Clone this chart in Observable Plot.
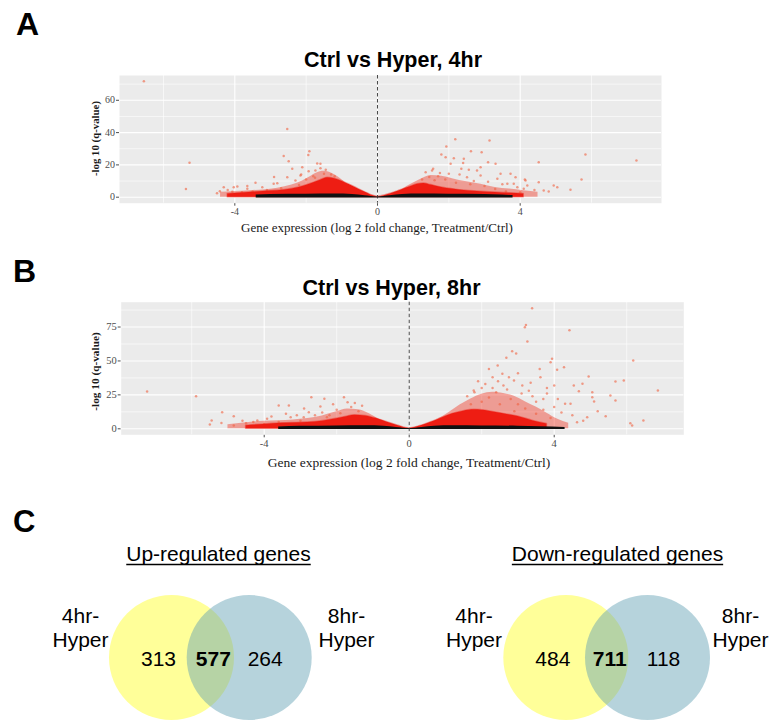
<!DOCTYPE html>
<html><head><meta charset="utf-8">
<script src="https://cdn.jsdelivr.net/npm/d3@7"></script>
<script src="https://cdn.jsdelivr.net/npm/@observablehq/plot@0.6"></script>
<style>
body{margin:0;background:#fff;}
#fig{position:relative;width:769px;height:720px;overflow:hidden;background:#fff;}
#fig svg{position:absolute;left:0;}
</style></head><body><div id="fig"></div>
<script>
// ---------- DATA ----------
const panelLetters = ["A", "B", "C"];
const panelTitles = ["Ctrl vs Hyper, 4hr", "Ctrl vs Hyper, 8hr"];
const xTitle = "Gene expression (log 2 fold change, Treatment/Ctrl)";
const yTitle = "-log 10 (q-value)";
const xTicks = [-4, 0, 4];
const xMinor = [-6, -2, 2, 6];
const yTicks4hr = [0, 20, 40, 60];
const yMinor4hr = [10, 30, 50, 70];
const yTicks8hr = [0, 25, 50, 75];
const yMinor8hr = [12.5, 37.5, 62.5, 87.5];

// scattered significant genes [log2FC, -log10 q]
const scatter4hr = [
  [-6.55,71.8],[-5.27,21.3],[-5.37,5.0],[-2.53,42.3],[-2.63,25.5],[-1.91,28.5],[-1.94,26.2],
  [-2.49,22.2],[-1.69,20.9],[-1.60,20.7],[-2.11,18.6],[-1.93,16.1],[-2.14,14.0],[-2.53,12.4],
  [-2.30,10.3],[-2.91,8.3],[-2.81,8.7],[-3.42,9.0],[-3.65,5.2],[-3.93,6.6],[-4.07,3.3],
  [-4.42,3.7],[-4.31,6.2],[-4.03,6.2],[-3.23,6.2],[-3.65,6.9],[-2.39,17.6],[-2.16,13.4],
  [-1.74,16.5],[-3.10,4.5],[-2.70,5.5],[-2.20,7.5],[-1.80,13.0],[-1.50,14.5],[-1.30,14.0],
  [-1.60,18.0],[-2.00,11.0],[-3.50,3.5],[-4.50,2.5],[-4.20,4.5],[-3.80,3.0],[-2.90,12.5],
  [-1.45,17.0],[-1.20,13.0],[-1.75,12.0],
  [2.18,35.9],[3.14,35.1],[1.93,31.4],[1.79,26.4],[1.91,24.8],[2.62,28.5],[2.92,27.9],
  [5.83,26.4],[7.26,22.7],[4.52,21.7],[2.42,23.8],[2.14,24.1],[3.10,21.7],[3.31,20.7],
  [2.05,20.7],[2.40,21.1],[1.56,17.6],[1.35,15.5],[2.89,18.6],[2.56,17.0],[2.35,17.6],
  [1.53,16.5],[3.45,14.5],[3.73,14.5],[3.87,12.4],[4.15,10.3],[4.10,5.2],[3.82,8.3],
  [5.72,11.0],[4.94,7.2],[5.41,4.6],[4.66,4.1],[5.04,6.2],[4.13,11.0],[4.52,9.3],
  [3.92,6.2],[4.20,7.2],[3.64,8.3],[3.36,11.4],[2.89,13.4],[2.51,12.4],[2.79,16.5],
  [1.70,13.0],[1.90,11.0],[2.20,9.0],[2.60,8.0],[3.00,7.0],[3.30,5.0],[1.60,10.5],
  [2.00,14.5],[4.40,4.5],[4.80,3.5],[3.60,3.5],[4.00,3.0],
  [1.25,11.0],[1.45,12.5],[1.75,15.0],[2.30,14.0],[2.70,10.0],[3.10,9.5],[3.50,8.0]
];
// dense red core upper edge
const core4hr = [
  [-4.2,2.0],[-3.8,2.6],[-3.4,3.2],[-3.0,3.8],[-2.6,4.5],[-2.2,6.0],[-1.9,8.0],[-1.6,10.5],
  [-1.4,12.0],[-1.2,11.5],[-0.94,9.3],[-0.65,6.3],[-0.37,3.3],[0,0.3],
  [0.37,2.2],[0.65,4.3],[0.94,6.6],[1.12,8.0],[1.3,8.5],[1.5,7.5],[1.8,6.0],[2.1,5.0],
  [2.5,4.0],[2.9,3.4],[3.3,2.9],[3.7,2.4],[4.1,2.0]
];
// sparser halo above the core
const halo4hr = [
  [-4.4,3.0],[-4.0,3.5],[-3.6,4.0],[-3.2,4.5],[-2.8,5.5],[-2.4,7.5],[-2.1,10.0],[-1.9,12.5],
  [-1.7,15.0],[-1.5,16.0],[-1.3,15.0],[-1.1,12.5],[-0.9,9.0],[-0.7,5.0],[-0.35,1.5],[0,0.3],
  [0.35,1.2],[0.6,3.5],[0.9,7.5],[1.2,11.0],[1.5,13.5],[1.8,13.0],[2.1,11.5],[2.5,9.5],
  [2.9,8.0],[3.3,6.0],[3.7,5.0],[4.1,4.0],[4.5,3.0]
];
// non-significant genes (black band top)
const band4hr = [
  [-3.4,1.3],[-3.0,1.7],[-2.0,1.9],[-1.2,2.0],[-0.7,1.7],[-0.35,0.9],[0,0.2],[0.35,0.9],
  [0.7,1.7],[1.2,2.0],[2.0,1.9],[3.0,1.7],[3.5,1.4],[3.8,1.0]
];

const scatter8hr = [
  [-7.23,27.5],[-5.88,24.0],[-5.45,6.1],[-5.50,3.2],[-5.16,12.2],[-5.18,4.2],[-4.84,9.3],
  [-4.84,2.5],[-4.50,4.0],[-4.19,6.1],[-4.30,5.0],[-3.92,7.4],[-3.60,17.2],[-3.32,17.2],
  [-3.27,8.5],[-2.70,23.3],[-2.34,22.1],[-2.77,12.2],[-1.80,23.3],[-1.70,19.6],[-2.45,16.4],
  [-2.27,8.5],[-2.91,8.5],[-2.00,14.0],[-1.60,16.0],[-1.40,13.0],[-3.00,6.0],[-3.60,5.0],
  [-4.00,3.5],[-3.40,11.0],[-2.60,10.0],[-1.90,11.5],[-2.10,18.0],
  [-2.40,12.0],[-2.20,10.0],[-3.10,10.0],[-4.60,6.0],[-3.80,9.0],[-2.90,15.0],[-1.50,19.0],[-1.30,17.0],
  [3.39,88.9],[3.19,74.9],[3.22,76.5],[4.42,72.7],[3.26,64.3],[2.84,57.2],[2.95,55.5],
  [2.68,52.3],[3.94,51.6],[3.90,49.1],[6.18,50.3],[2.44,46.6],[2.57,40.5],[4.08,43.5],
  [4.27,45.4],[4.54,31.9],[4.95,38.5],[4.78,33.2],[5.69,34.9],[5.92,35.6],[6.86,28.2],
  [5.55,24.5],[5.69,20.9],[5.05,23.3],[5.05,27.0],[5.10,20.1],[4.68,27.7],[4.45,18.4],
  [5.42,9.3],[6.10,4.1],[6.15,2.4],[6.46,6.1],[4.91,8.5],[4.63,4.9],[3.62,38.0],
  [3.12,31.9],[2.89,35.6],[2.30,38.0],[2.10,33.0],[2.00,30.0],[2.60,32.0],[3.30,28.0],
  [3.80,26.0],[4.10,22.0],[3.50,20.0],[2.40,27.0],[1.80,27.0],[1.60,24.0],[2.80,22.0],
  [3.00,18.0],[3.70,14.0],[4.20,12.0],[4.50,10.0],[3.90,8.0],[4.80,6.0],[5.20,13.0],
  [4.00,32.0],[3.60,44.0],[2.20,44.0],[1.90,35.0],
  [1.78,28.2],[2.30,30.0],[2.70,29.0],[3.10,26.0],[3.40,24.0],[2.00,20.0],[2.50,18.0],
  [1.70,18.0],[3.20,15.0],[2.90,13.0],[3.50,11.0],[4.00,16.0],[4.30,18.5],[3.70,22.0],
  [2.20,23.0],[2.75,38.0],[3.35,34.0],[3.00,41.0],[2.45,35.0],[3.80,30.0]
];
const core8hr = [
  [-4.5,2.3],[-4.0,3.2],[-3.5,4.0],[-3.0,4.5],[-2.6,5.0],[-2.2,6.5],[-1.8,8.5],[-1.5,10.0],
  [-1.2,9.5],[-0.9,7.5],[-0.6,4.8],[-0.3,2.2],[0,0.3],
  [0.3,2.0],[0.6,4.8],[0.9,8.0],[1.2,11.0],[1.5,13.0],[1.8,14.0],[2.2,13.0],[2.6,11.0],
  [3.0,9.0],[3.4,6.0],[3.8,3.5]
];
const halo8hr = [
  [-5.0,3.0],[-4.5,4.5],[-4.0,5.5],[-3.6,6.0],[-3.2,6.5],[-2.8,7.5],[-2.4,9.5],[-2.0,12.5],
  [-1.7,14.5],[-1.4,14.0],[-1.1,11.0],[-0.8,6.5],[-0.4,2.0],[0,0.3],
  [0.4,2.0],[0.8,7.0],[1.1,12.0],[1.4,17.5],[1.7,22.0],[2.0,25.5],[2.3,27.0],[2.6,26.0],
  [2.9,24.0],[3.2,20.0],[3.5,16.0],[3.8,11.5],[4.1,7.0],[4.4,4.0]
];
const band8hr = [
  [-3.6,1.4],[-3.0,1.8],[-2.0,2.1],[-1.2,2.2],[-0.7,1.9],[-0.35,1.0],[0,0.2],[0.35,1.0],
  [0.7,1.9],[1.2,2.2],[2.0,2.1],[3.0,1.9],[3.6,1.5],[4.3,1.0]
];

// Venn diagrams
const vennTitles = ["Up-regulated genes", "Down-regulated genes"];
const vennSetLabels = [["4hr-", "Hyper"], ["8hr-", "Hyper"]];
const upCounts = [313, 577, 264];      // 4hr only, shared, 8hr only
const downCounts = [484, 711, 118];

// ---------- LAYOUT ----------
const fig = document.getElementById("fig");
const serif = "'Liberation Serif', 'Times New Roman', serif";
const sans = "'Liberation Sans', Arial, sans-serif";
const toObj = arr => arr.map(([x, y]) => ({x, y}));

function volcano(o) {
  const p = Plot.plot({
    width: 769, height: o.height,
    marginLeft: o.left, marginRight: 769 - o.right,
    marginTop: o.top - o.offset, marginBottom: o.offset + o.height - o.bottom,
    style: {background: "transparent", fontFamily: serif, fontSize: o.tickSize + "px", color: "#4D4D4D"},
    x: {domain: o.xDomain, ticks: xTicks, tickSize: 3, tickPadding: 1.5, label: null, tickFormat: d => String(d)},
    y: {domain: o.yDomain, ticks: o.yTicks, tickSize: 3, tickPadding: 1.5, label: null, tickFormat: d => String(d)},
    marks: [
      Plot.frame({fill: "#EBEBEB", stroke: "none"}),
      Plot.ruleX(xMinor, {stroke: "#fff", strokeWidth: 0.6}),
      Plot.ruleY(o.yMinor, {stroke: "#fff", strokeWidth: 0.6}),
      Plot.ruleX(xTicks, {stroke: "#fff", strokeWidth: 1.1}),
      Plot.ruleY(o.yTicks, {stroke: "#fff", strokeWidth: 1.1}),
      Plot.areaY(toObj(o.halo), {x: "x", y1: 0, y2: "y", fill: "#f0301c", fillOpacity: 0.42, curve: "monotone-x"}),
      Plot.dot(toObj(o.scatter), {x: "x", y: "y", r: 1.25, fill: "#f0603f", fillOpacity: 0.6, stroke: "none"}),
      Plot.areaY(toObj(o.core), {x: "x", y1: 0, y2: "y", fill: "#ee1d13", stroke: "#ee1d13", strokeOpacity: 0.4, strokeWidth: 1.5, curve: "monotone-x"}),
      Plot.areaY(toObj(o.band), {x: "x", y1: -0.45, y2: "y", fill: "#111", curve: "monotone-x"}),
      Plot.ruleX([0], {stroke: "#333", strokeWidth: 0.9, strokeDasharray: "3.5,2.5"})
    ]
  });
  p.style.top = o.offset + "px";
  fig.appendChild(p);
}

volcano({offset: 0, height: 240, left: 119, right: 661, top: 75, bottom: 202.7,
  xDomain: [-7.233, 7.962], yDomain: [-3.715, 75.35], yTicks: yTicks4hr, yMinor: yMinor4hr,
  scatter: scatter4hr, core: core4hr, halo: halo4hr, band: band4hr, tickSize: 10});
volcano({offset: 250, height: 240, left: 120.7, right: 683.3, top: 301.7, bottom: 434.3,
  xDomain: [-7.945, 7.575], yDomain: [-4.42, 93.29], yTicks: yTicks8hr, yMinor: yMinor8hr,
  scatter: scatter8hr, core: core8hr, halo: halo8hr, band: band8hr, tickSize: 10.5});

// Venn diagrams
const venns = [
  {yellow: 171, blue: 248.7, counts: upCounts, left: 80, right: 346},
  {yellow: 565.3, blue: 647, counts: downCounts, left: 473.5, right: 740}
];
const cy = 657;
const yellowC = venns.map(v => ({x: v.yellow, y: cy}));
const blueC = venns.map(v => ({x: v.blue, y: cy}));
const soloCounts = venns.flatMap(v => [
  {x: v.yellow - 13, y: cy + 2, t: v.counts[0]},
  {x: v.blue + 16, y: cy + 2, t: v.counts[2]}
]);
const sharedCounts = venns.map(v => ({x: (v.yellow + v.blue) / 2 + 3, y: cy + 2, t: v.counts[1]}));
const setText = venns.flatMap(v => [
  {x: v.left, y: 616, t: vennSetLabels[0][0]}, {x: v.left, y: 640, t: vennSetLabels[0][1]},
  {x: v.right, y: 616, t: vennSetLabels[1][0]}, {x: v.right, y: 640, t: vennSetLabels[1][1]}
]);
const vp = Plot.plot({
  width: 769, height: 150, margin: 0,
  style: {background: "transparent", fontFamily: sans, fontSize: "21px", color: "#000", overflow: "hidden"},
  x: {domain: [0, 769], axis: null},
  y: {domain: [720, 570], axis: null},
  marks: [
    Plot.dot(yellowC, {x: "x", y: "y", r: 62.5, fill: "#ffff99", stroke: "none"}),
    Plot.dot(blueC, {x: "x", y: "y", r: 62.5, fill: "#5fa0b3", fillOpacity: 0.46, stroke: "none"}),
    Plot.text(soloCounts, {x: "x", y: "y", text: "t", fill: "#000"}),
    Plot.text(sharedCounts, {x: "x", y: "y", text: "t", fill: "#000", fontWeight: "bold"}),
    Plot.text(setText, {x: "x", y: "y", text: "t", fill: "#000"})
  ]
});
vp.style.top = "570px";
fig.appendChild(vp);

// Text overlay (panel letters, titles, axis titles)
const ov = d3.select(fig).append("svg").attr("width", 769).attr("height", 720).style("top", "0px");
function txt(s, x, y, opt) {
  const t = ov.append("text").attr("x", x).attr("y", y).text(s)
    .attr("font-family", opt.family || sans).attr("font-size", opt.size)
    .attr("font-weight", opt.weight || "normal").attr("fill", opt.fill || "#000")
    .attr("text-anchor", opt.anchor || "middle");
  if (opt.rotate) t.attr("transform", `rotate(-90,${x},${y})`).attr("dy", "0.35em");
  return t;
}
txt(panelLetters[0], 16, 35, {size: 32, weight: "bold", anchor: "start"});
txt(panelLetters[1], 13, 282, {size: 32, weight: "bold", anchor: "start"});
txt(panelLetters[2], 13, 532, {size: 31, weight: "bold", anchor: "start"});
txt(panelTitles[0], 393, 67.3, {size: 21.5, weight: "bold"});
txt(panelTitles[1], 391.5, 295, {size: 21.5, weight: "bold"});
txt(xTitle, 377, 232, {size: 13, family: serif, fill: "#1a1a1a"});
txt(xTitle, 409, 467, {size: 13.5, family: serif, fill: "#1a1a1a"});
txt(yTitle, 95, 138.5, {size: 10.8, family: serif, weight: "bold", fill: "#1a1a1a", rotate: true});
txt(yTitle, 95, 371.5, {size: 11.3, family: serif, weight: "bold", fill: "#1a1a1a", rotate: true});
[[vennTitles[0], 218.5], [vennTitles[1], 617.5]].forEach(([s, cx]) => {
  const t = txt(s, cx, 560.7, {size: 21});
  const w = t.node().getComputedTextLength();
  ov.append("line").attr("x1", cx - w / 2).attr("x2", cx + w / 2)
    .attr("y1", 564.5).attr("y2", 564.5).attr("stroke", "#000").attr("stroke-width", 1.6);
});
</script></body></html>
